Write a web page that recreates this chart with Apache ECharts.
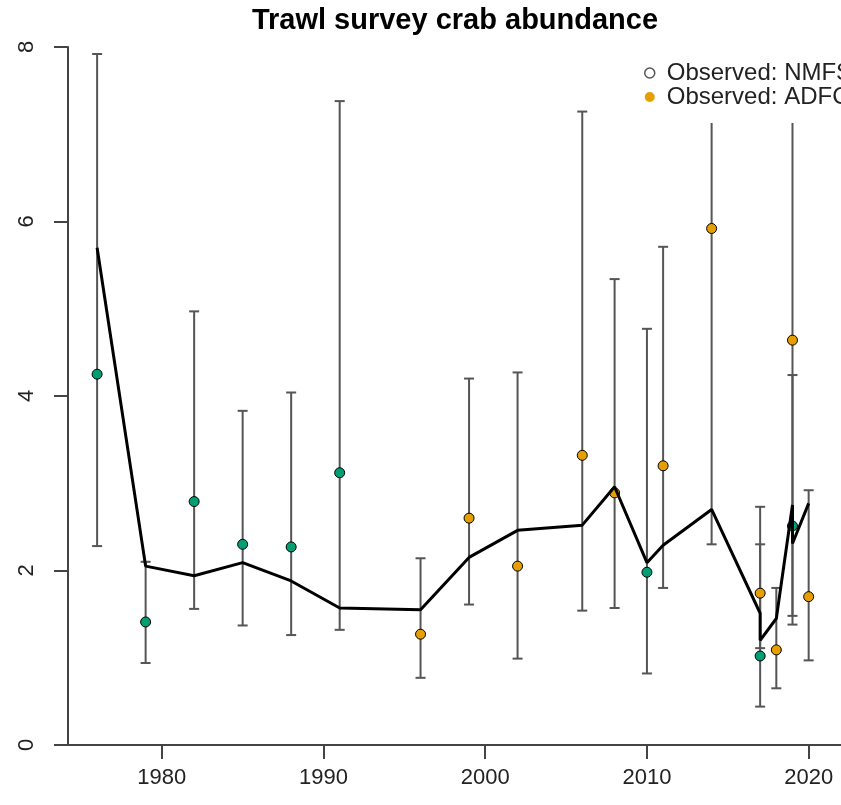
<!DOCTYPE html>
<html>
<head>
<meta charset="utf-8">
<script src="https://cdn.jsdelivr.net/npm/echarts@6/dist/echarts.min.js"></script>
<style>
  html, body { margin: 0; padding: 0; background: #fff; }
  #chart { width: 841px; height: 805px; }
</style>
</head>
<body>
<div id="chart"></div>
<script>
// NMFS 观测值 (绿色)
var nmfsYears = [1976, 1979, 1982, 1985, 1988, 1991, 2010, 2017, 2019];
var nmfsObs   = [4.25, 1.41, 2.79, 2.30, 2.27, 3.12, 1.98, 1.02, 2.51];
var nmfsLo    = [2.28, 0.94, 1.56, 1.37, 1.26, 1.32, 0.82, 0.44, 1.48];
var nmfsHi    = [7.92, 2.10, 4.97, 3.83, 4.04, 7.38, 4.77, 2.30, 4.24];

// ADFG 观测值 (橙色)
var adfgYears = [1996, 1999, 2002, 2006, 2008, 2011, 2014, 2017, 2018, 2019, 2020];
var adfgObs   = [1.27, 2.60, 2.05, 3.32, 2.89, 3.20, 5.92, 1.74, 1.09, 4.64, 1.70];
var adfgLo    = [0.77, 1.61, 0.99, 1.54, 1.57, 1.80, 2.30, 1.11, 0.65, 1.38, 0.97];
var adfgHi    = [2.14, 4.20, 4.27, 7.26, 5.34, 5.71, 15.2, 2.73, 1.80, 15.6, 2.92];

// 模型拟合线
var fitYears = [1976, 1979, 1982, 1985, 1988, 1991, 1996, 1999, 2002, 2006, 2008, 2010, 2011, 2014, 2017, 2017, 2018, 2019, 2019, 2020];
var fitVals  = [5.70, 2.05, 1.94, 2.09, 1.88, 1.57, 1.55, 2.15, 2.46, 2.52, 2.96, 2.09, 2.29, 2.70, 1.51, 1.20, 1.45, 2.75, 2.31, 2.77];

// 刻度
var xTicks = [1980, 1990, 2000, 2010, 2020];

function zip(a, b, c) {
  return a.map(function (v, i) { return c ? [v, b[i], c[i]] : [v, b[i]]; });
}

// 误差线
function errorBar(params, api) {
  var x = api.value(0);
  var lo = api.coord([x, api.value(1)]);
  var hi = api.coord([x, api.value(2)]);
  var w = 5;
  var style = { stroke: '#555', lineWidth: 2 };
  return {
    type: 'group',
    children: [
      { type: 'line', shape: { x1: lo[0], y1: lo[1], x2: hi[0], y2: hi[1] }, style: style },
      { type: 'line', shape: { x1: hi[0] - w, y1: hi[1], x2: hi[0] + w, y2: hi[1] }, style: style },
      { type: 'line', shape: { x1: lo[0] - w, y1: lo[1], x2: lo[0] + w, y2: lo[1] }, style: style }
    ]
  };
}

var chart = echarts.init(document.getElementById('chart'));

var option = {
  animation: false,
  textStyle: { fontFamily: 'Liberation Sans, Arial, sans-serif' },
  title: {
    text: 'Trawl survey crab abundance',
    left: 450,
    textAlign: 'center',
    top: 1,
    textStyle: { fontSize: 29, fontWeight: 'bold', color: '#000' }
  },
  legend: {
    orient: 'vertical',
    left: 640,
    top: 35,
    padding: [26, 8, 14, 4],
    itemGap: 0,
    itemWidth: 24,
    itemHeight: 10,
    backgroundColor: '#fff',
    textStyle: { fontSize: 24, lineHeight: 24, color: '#222' },
    data: [
      { name: 'Observed: NMFS', icon: 'circle', itemStyle: { color: '#fff', borderColor: '#555', borderWidth: 1.5 } },
      { name: 'Observed: ADFG', icon: 'circle', itemStyle: { color: '#E69F00', borderWidth: 0 } }
    ]
  },
  grid: { left: 68, right: 0, top: 47, bottom: 60 },
  xAxis: {
    type: 'value',
    min: 1974.2,
    max: 2022,
    splitLine: { show: false },
    axisLine: { lineStyle: { color: '#444', width: 2 } },
    axisTick: { length: 14, customValues: xTicks, lineStyle: { color: '#444', width: 2 } },
    axisLabel: {
      customValues: xTicks,
      margin: 22,
      fontSize: 22,
      color: '#222',
      formatter: function (v) { return String(v); }
    }
  },
  yAxis: {
    type: 'value',
    min: 0,
    max: 8,
    interval: 2,
    splitLine: { show: false },
    axisLine: { show: true, lineStyle: { color: '#444', width: 2 } },
    axisTick: { show: true, length: 14, lineStyle: { color: '#444', width: 2 } },
    axisLabel: { rotate: 90, margin: 30, fontSize: 22, color: '#222' }
  },
  series: [
    {
      type: 'custom',
      name: 'nmfsErr',
      renderItem: errorBar,
      clip: true,
      z: 1,
      encode: { x: 0, y: [1, 2] },
      data: zip(nmfsYears, nmfsLo, nmfsHi)
    },
    {
      type: 'custom',
      name: 'adfgErr',
      renderItem: errorBar,
      clip: true,
      z: 1,
      encode: { x: 0, y: [1, 2] },
      data: zip(adfgYears, adfgLo, adfgHi)
    },
    {
      type: 'scatter',
      name: 'Observed: NMFS',
      symbolSize: 10,
      z: 2,
      itemStyle: { color: '#009E73', borderColor: '#000', borderWidth: 1, opacity: 1 },
      data: zip(nmfsYears, nmfsObs)
    },
    {
      type: 'scatter',
      name: 'Observed: ADFG',
      symbolSize: 10,
      z: 2,
      itemStyle: { color: '#E69F00', borderColor: '#000', borderWidth: 1, opacity: 1 },
      data: zip(adfgYears, adfgObs)
    },
    {
      type: 'line',
      name: 'fit',
      showSymbol: false,
      z: 3,
      lineStyle: { color: '#000', width: 3 },
      data: zip(fitYears, fitVals)
    }
  ]
};

chart.setOption(option);
</script>
</body>
</html>
